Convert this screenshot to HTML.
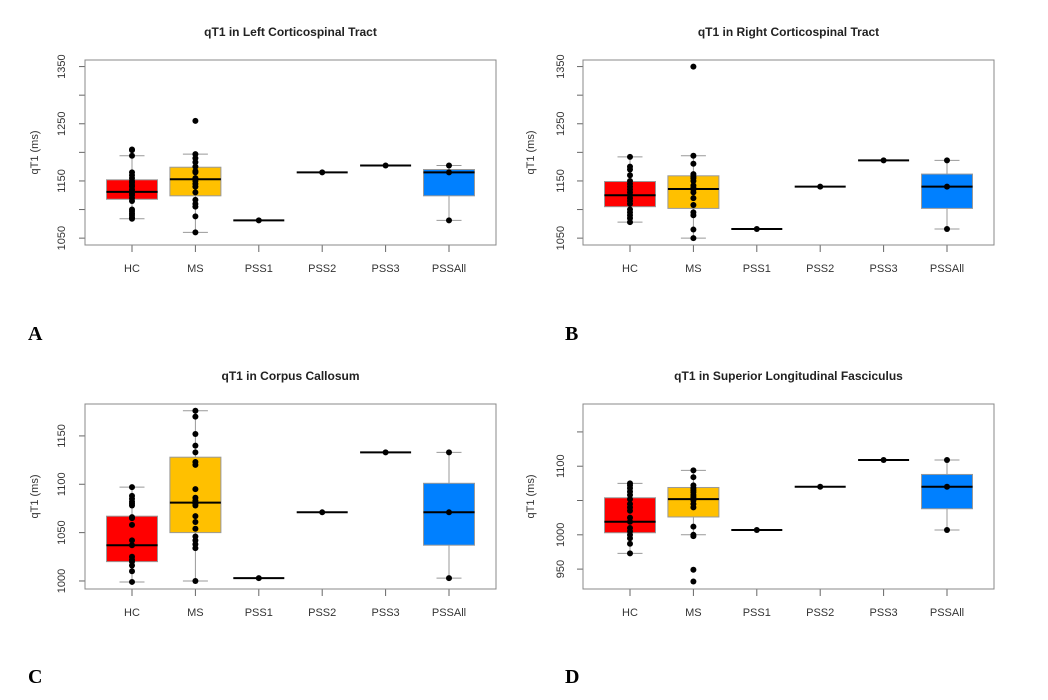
<!DOCTYPE html>
<html><head><meta charset="utf-8"><style>
body{margin:0;background:#fff;width:1048px;height:700px;overflow:hidden}
svg{position:absolute;left:0;top:0;font-family:"Liberation Sans",sans-serif}
</style></head><body>
<svg id="c" width="1048" height="700"></svg>
<script>
const categories=["HC","MS","PSS1","PSS2","PSS3","PSSAll"];
const colors=["#ff0000","#ffc000",null,null,null,"#0080ff"];
const titles=["qT1 in Left Corticospinal Tract","qT1 in Right Corticospinal Tract","qT1 in Corpus Callosum","qT1 in Superior Longitudinal Fasciculus"];
const letters=["A","B","C","D"];
// box stats per panel: [whiskerLow,q1,median,q3,whiskerHigh] per category
const statsA=[[1084,1118,1131,1152,1194],[1060,1124,1153,1174,1197],[1081,1081,1081,1081,1081],[1165,1165,1165,1165,1165],[1177,1177,1177,1177,1177],[1081,1124,1165,1170,1177]];
const statsB=[[1078,1105,1125,1149,1192],[1050,1102,1136,1159,1194],[1066,1066,1066,1066,1066],[1140,1140,1140,1140,1140],[1186,1186,1186,1186,1186],[1066,1102,1140,1162,1186]];
const statsC=[[999,1020,1037,1067,1097],[1000,1050,1081,1128,1176],[1003,1003,1003,1003,1003],[1071,1071,1071,1071,1071],[1133,1133,1133,1133,1133],[1003,1037,1071,1101,1133]];
const statsD=[[973,1003,1019,1054,1075],[1000,1026,1052,1069,1094],[1007,1007,1007,1007,1007],[1070,1070,1070,1070,1070],[1109,1109,1109,1109,1109],[1007,1038,1070,1088,1109]];
const pointsA=[[1205,1204,1194,1165,1160,1155,1150,1147,1143,1140,1135,1132,1128,1125,1120,1115,1100,1097,1093,1090,1086,1084],[1255,1197,1190,1183,1175,1167,1165,1155,1150,1145,1140,1130,1117,1110,1105,1088,1060],[1081],[1165],[1177],[1081,1165,1177]];
const pointsB=[[1192,1175,1170,1160,1150,1145,1140,1135,1130,1125,1120,1115,1110,1100,1095,1090,1085,1078],[1350,1194,1180,1162,1158,1155,1150,1142,1138,1135,1130,1120,1108,1095,1090,1065,1050],[1066],[1140],[1186],[1066,1140,1186]];
const pointsC=[[1097,1088,1085,1082,1080,1078,1066,1065,1058,1042,1037,1025,1022,1020,1016,1010,999],[1176,1170,1152,1140,1133,1123,1120,1095,1086,1083,1080,1078,1067,1061,1054,1046,1042,1038,1034,1000],[1003],[1071],[1133],[1003,1071,1133]];
const pointsD=[[1075,1072,1068,1063,1058,1052,1045,1040,1035,1025,1019,1010,1005,1000,995,987,973],[1094,1084,1072,1068,1065,1062,1058,1055,1050,1045,1040,1012,1000,998,949,932],[1007],[1070],[1109],[1007,1070,1109]];
const ticksA=[1050,1100,1150,1200,1250,1300,1350], labelsA=[1050,1150,1250,1350];
const ticksB=[1050,1100,1150,1200,1250,1300,1350], labelsB=[1050,1150,1250,1350];
const ticksC=[1000,1050,1100,1150], labelsC=[1000,1050,1100,1150];
const ticksD=[950,1000,1050,1100,1150], labelsD=[950,1000,1100];

const panels=[
 {x:85,y:60,min:1038,max:1361.5,stats:statsA,pts:pointsA,ticks:ticksA,labels:labelsA,lx:38,tx:65,letter:[28,340]},
 {x:583,y:60,min:1038,max:1361.5,stats:statsB,pts:pointsB,ticks:ticksB,labels:labelsB,lx:534,tx:564,letter:[565,340]},
 {x:85,y:404,min:991.7,max:1183,stats:statsC,pts:pointsC,ticks:ticksC,labels:labelsC,lx:38,tx:65,letter:[28,683]},
 {x:583,y:404,min:921,max:1190.7,stats:statsD,pts:pointsD,ticks:ticksD,labels:labelsD,lx:534,tx:564,letter:[565,683]}];
const W=411,H=185;
const svg=document.getElementById('c');
const NS='http://www.w3.org/2000/svg';
function mk(tag,at,parent){const e=document.createElementNS(NS,tag);for(const k in at)e.setAttribute(k,at[k]);(parent||svg).appendChild(e);return e;}
panels.forEach((p,pi)=>{
 const g=mk('g',{});
 
 
 const ys=v=>p.y+H-(v-p.min)/(p.max-p.min)*H;
 const xs=i=>p.x+47+i*63.4;
 const t=mk('text',{x:p.x+W/2,y:p.y-24,'text-anchor':'middle','font-size':12,'font-weight':'bold',fill:'#222'},g);t.textContent=titles[pi];
 
 
 const yl=mk('text',{x:p.lx,y:p.y+H/2,'text-anchor':'middle','font-size':11,fill:'#333',transform:`rotate(-90 ${p.lx} ${p.y+H/2})`},g);yl.textContent='qT1 (ms)';
 
 
 const L=mk('text',{x:p.letter[0],y:p.letter[1],'font-size':20,'font-weight':'bold','font-family':'Liberation Serif,serif',fill:'#000'},g);L.textContent=letters[pi];
 
 
 p.ticks.forEach(v=>{
  mk('line',{x1:p.x-6,x2:p.x,y1:ys(v),y2:ys(v),stroke:'#666'},g);
  if(p.labels.includes(v)){const tl=mk('text',{x:p.tx,y:ys(v),'text-anchor':'middle','font-size':11,fill:'#333',transform:`rotate(-90 ${p.tx} ${ys(v)})`},g);tl.textContent=v;
   
   }
 });
 categories.forEach((c,i)=>{
  const cx=xs(i);
  mk('line',{x1:cx,x2:cx,y1:p.y+H,y2:p.y+H+7,stroke:'#666'},g);
  const xl=mk('text',{x:cx,y:p.y+H+27,'text-anchor':'middle','font-size':11,fill:'#333'},g);xl.textContent=c;
  
  
  const s=p.stats[i];
  mk('line',{x1:cx,x2:cx,y1:ys(s[0]),y2:ys(s[1]),stroke:'#999'},g);
  mk('line',{x1:cx,x2:cx,y1:ys(s[3]),y2:ys(s[4]),stroke:'#999'},g);
  mk('line',{x1:cx-12.5,x2:cx+12.5,y1:ys(s[0]),y2:ys(s[0]),stroke:'#999'},g);
  mk('line',{x1:cx-12.5,x2:cx+12.5,y1:ys(s[4]),y2:ys(s[4]),stroke:'#999'},g);
  if(s[3]>s[1]){const b=mk('rect',{x:cx-25.5,y:ys(s[3]),width:51,height:ys(s[1])-ys(s[3]),fill:colors[i]||'#ccc',stroke:'#999'},g);
   
   }
  mk('line',{x1:cx-25.5,x2:cx+25.5,y1:ys(s[2]),y2:ys(s[2]),stroke:'#000','stroke-width':2},g);
  p.pts[i].forEach(v=>{const d=mk('circle',{cx:cx,cy:ys(v),r:3,fill:'#000'},g);
   
   });
 });
 mk('rect',{x:p.x,y:p.y,width:W,height:H,fill:'none',stroke:'#888'},g);
});
</script>
</body></html>
